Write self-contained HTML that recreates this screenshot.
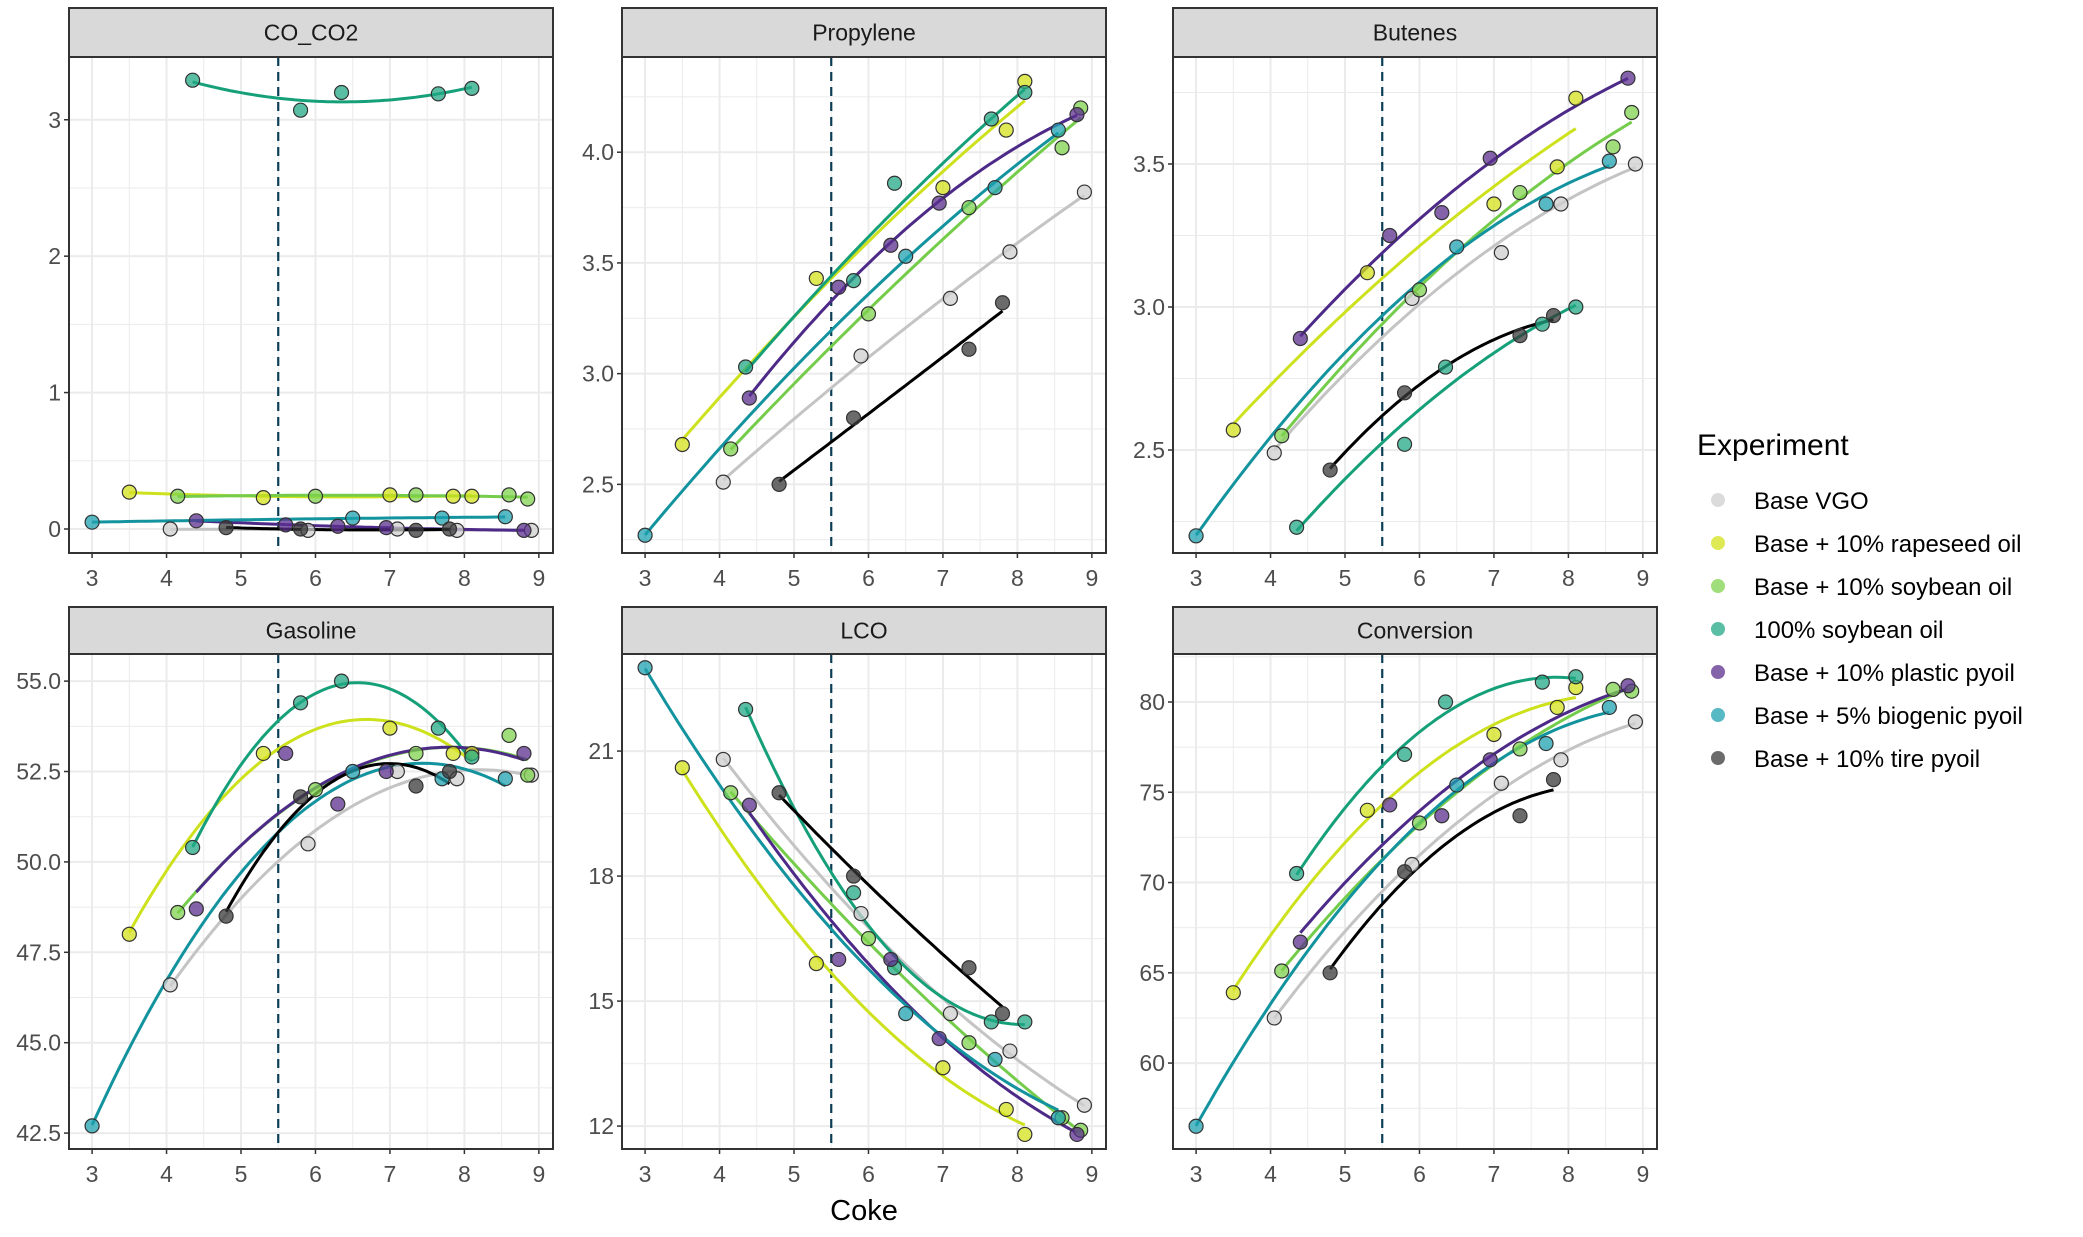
<!DOCTYPE html>
<html><head><meta charset="utf-8"><style>
body{margin:0;background:#fff;}
svg text{font-family:"Liberation Sans",sans-serif;}
</style></head><body>
<svg id="chart" width="2083" height="1232" viewBox="0 0 2083 1232" xmlns="http://www.w3.org/2000/svg"></svg>
<script>
const seriesNames=["Base VGO","Base + 10% rapeseed oil","Base + 10% soybean oil","100% soybean oil","Base + 10% plastic pyoil","Base + 5% biogenic pyoil","Base + 10% tire pyoil"];
const seriesColors=["#cfcfcf","#d4e21a","#7fd34e","#22a884","#5b2f8f","#1fa2b0","#3a3a3a"];
const lineColors=["#c4c4c4","#cde11d","#74cc4a","#16a07a","#4d2a88","#13939e","#000000"];
const cokeX=[[4.05,5.9,7.1,7.9,8.9],[3.5,5.3,7.0,7.85,8.1],[4.15,6.0,7.35,8.6,8.85],[4.35,5.8,6.35,7.65,8.1],[4.4,5.6,6.3,6.95,8.8],[3.0,6.5,7.7,8.55],[4.8,5.8,7.35,7.8]];
const panelNames=["CO_CO2","Propylene","Butenes","Gasoline","LCO","Conversion"];
const coValues=[[0,-0.01,0,-0.01,-0.01],[0.27,0.23,0.25,0.24,0.24],[0.24,0.24,0.25,0.25,0.22],[3.29,3.07,3.2,3.19,3.23],[0.06,0.03,0.02,0.01,-0.01],[0.05,0.08,0.08,0.09],[0.01,0,-0.01,0]];
const propyleneValues=[[2.51,3.08,3.34,3.55,3.82],[2.68,3.43,3.84,4.1,4.32],[2.66,3.27,3.75,4.02,4.2],[3.03,3.42,3.86,4.15,4.27],[2.89,3.39,3.58,3.77,4.17],[2.27,3.53,3.84,4.1],[2.5,2.8,3.11,3.32]];
const butenesValues=[[2.49,3.03,3.19,3.36,3.5],[2.57,3.12,3.36,3.49,3.73],[2.55,3.06,3.4,3.56,3.68],[2.23,2.52,2.79,2.94,3.0],[2.89,3.25,3.33,3.52,3.8],[2.2,3.21,3.36,3.51],[2.43,2.7,2.9,2.97]];
const gasolineValues=[[46.6,50.5,52.5,52.3,52.4],[48.0,53.0,53.7,53.0,53.0],[48.6,52.0,53.0,53.5,52.4],[50.4,54.4,55.0,53.7,52.9],[48.7,53.0,51.6,52.5,53.0],[42.7,52.5,52.3,52.3],[48.5,51.8,52.1,52.5]];
const lcoValues=[[20.8,17.1,14.7,13.8,12.5],[20.6,15.9,13.4,12.4,11.8],[20.0,16.5,14.0,12.2,11.9],[22.0,17.6,15.8,14.5,14.5],[19.7,16.0,16.0,14.1,11.8],[23.0,14.7,13.6,12.2],[20.0,18.0,15.8,14.7]];
const conversionValues=[[62.5,71.0,75.5,76.8,78.9],[63.9,74.0,78.2,79.7,80.8],[65.1,73.3,77.4,80.7,80.6],[70.5,77.1,80.0,81.1,81.4],[66.7,74.3,73.7,76.8,80.9],[56.5,75.4,77.7,79.7],[65.0,70.6,73.7,75.7]];
const xTicks=[3,4,5,6,7,8,9];
const coTicks=["0","1","2","3"];
const propyleneTicks=["2.5","3.0","3.5","4.0"];
const butenesTicks=["2.5","3.0","3.5"];
const gasolineTicks=["42.5","45.0","47.5","50.0","52.5","55.0"];
const lcoTicks=["12","15","18","21"];
const conversionTicks=["60","65","70","75","80"];
const refLine=5.5;

const panelValues=[coValues,propyleneValues,butenesValues,gasolineValues,lcoValues,conversionValues];
const panelTicks=[coTicks,propyleneTicks,butenesTicks,gasolineTicks,lcoTicks,conversionTicks];
const yDomains=[[-0.176,3.46],[2.19,4.43],[2.14,3.874],[42.06,55.75],[11.45,23.33],[55.24,82.66]];
const xDomain=[2.69,9.19];
const colLeft=[69,622,1173], panelW=484;
const rowStrip=[[8,57,553],[607,654,1149]];
const NS="http://www.w3.org/2000/svg";
const svg=document.getElementById('chart');
function mk(tag,attrs,parent){const e=document.createElementNS(NS,tag);for(const k in attrs)e.setAttribute(k,attrs[k]);(parent||svg).appendChild(e);return e;}
function fit(xs,ys){
  const n=xs.length;let S=[0,0,0,0,0],T=[0,0,0];
  for(let i=0;i<n;i++){let p=1;for(let k=0;k<5;k++){S[k]+=p;if(k<3)T[k]+=p*ys[i];p*=xs[i];}}
  const A=[[S[0],S[1],S[2],T[0]],[S[1],S[2],S[3],T[1]],[S[2],S[3],S[4],T[2]]];
  for(let i=0;i<3;i++){for(let j=i+1;j<3;j++){const f=A[j][i]/A[i][i];for(let k=i;k<4;k++)A[j][k]-=f*A[i][k];}}
  const c=[0,0,0];for(let i=2;i>=0;i--){let s=A[i][3];for(let k=i+1;k<3;k++)s-=A[i][k]*c[k];c[i]=s/A[i][i];}
  return x=>c[0]+c[1]*x+c[2]*x*x;
}
for(let p=0;p<6;p++){
  const col=p%3,row=Math.floor(p/3);
  const L=colLeft[col],R=L+panelW,[st,T,B]=rowStrip[row];
  const [y0,y1]=yDomains[p];
  const xs=v=>L+(v-xDomain[0])/(xDomain[1]-xDomain[0])*panelW;
  const ys=v=>B-(v-y0)/(y1-y0)*(B-T);
  const g=mk('g',{});
  
  
  mk('rect',{x:L,y:T,width:panelW,height:B-T,fill:'#fff'},g);
  for(let v=2.5;v<=9.5;v+=0.5){if(v<xDomain[0]||v>xDomain[1])continue;mk('line',{x1:xs(v),x2:xs(v),y1:T,y2:B,stroke:'#ebebeb','stroke-width':(v%1===0)?2:1},g);}
  const tk=panelTicks[p].map(Number);const step=tk[1]-tk[0];
  for(let v=tk[0]-step;v<=tk[tk.length-1]+step+1e-9;v+=step/2){if(v<y0||v>y1)continue;const major=tk.some(t=>Math.abs(t-v)<1e-6);mk('line',{x1:L,x2:R,y1:ys(v),y2:ys(v),stroke:'#ebebeb','stroke-width':major?2:1},g);}
  panelTicks[p].forEach(t=>{const yy=ys(Number(t));mk('line',{x1:L-5,x2:L,y1:yy,y2:yy,stroke:'#333','stroke-width':1.5},g);
    const tx=mk('text',{x:L-8,y:yy+8,'text-anchor':'end','font-size':23,fill:'#4d4d4d'},g);tx.textContent=t;
    
    });
  xTicks.forEach(t=>{const xx=xs(t);mk('line',{x1:xx,x2:xx,y1:B,y2:B+5,stroke:'#333','stroke-width':1.5},g);
    const tx=mk('text',{x:xx,y:B+33,'text-anchor':'middle','font-size':23,fill:'#4d4d4d'},g);tx.textContent=t;
    
    });
  const rl=mk('line',{x1:xs(refLine),x2:xs(refLine),y1:T,y2:B,stroke:'#0b3d55','stroke-width':2.2,'stroke-dasharray':'9,6'},g);
  
  
  const vals=panelValues[p];
  for(let s=0;s<7;s++){
    const X=cokeX[s],Y=vals[s];const f=fit(X,Y);const mn=Math.min(...X),mx=Math.max(...X);
    let d='';for(let i=0;i<=60;i++){const x=mn+(mx-mn)*i/60;d+=(i?'L':'M')+xs(x).toFixed(1)+','+ys(f(x)).toFixed(1);}
    const ln=mk('path',{d:d,fill:'none',stroke:lineColors[s],'stroke-width':3},g);
    
    
  }
  for(let s=0;s<7;s++){
    const X=cokeX[s],Y=vals[s];
    for(let i=0;i<X.length;i++){
      const c=mk('circle',{cx:xs(X[i]),cy:ys(Y[i]),r:7,fill:seriesColors[s],'fill-opacity':0.75,stroke:'#333','stroke-width':1.2},g);
      
      
    }
  }
  mk('rect',{x:L,y:T,width:panelW,height:B-T,fill:'none',stroke:'#333','stroke-width':2},g);
  const strip=mk('rect',{x:L,y:st,width:panelW,height:T-st,fill:'#d9d9d9',stroke:'#333','stroke-width':2},g);
  
  
  const stt=mk('text',{x:L+panelW/2,y:st+(T-st)/2+8,'text-anchor':'middle','font-size':23,fill:'#1a1a1a'},g);
  stt.textContent=panelNames[p];
  
  
}
const xl=mk('text',{x:864,y:1220,'text-anchor':'middle','font-size':29,fill:'#000'});
xl.textContent='Coke';


const lg=mk('g',{});


const lt=mk('text',{x:1697,y:455,'font-size':30,fill:'#000'},lg);
lt.textContent='Experiment';


for(let s=0;s<7;s++){
  const yy=500+s*43;
  const e=mk('g',{},lg);
  
  
  mk('circle',{cx:1718,cy:yy,r:7,fill:seriesColors[s],'fill-opacity':0.75},e);
  const t=mk('text',{x:1754,y:yy+9,'font-size':24,fill:'#000'},e);
  t.textContent=seriesNames[s];
}
</script>
</body></html>
